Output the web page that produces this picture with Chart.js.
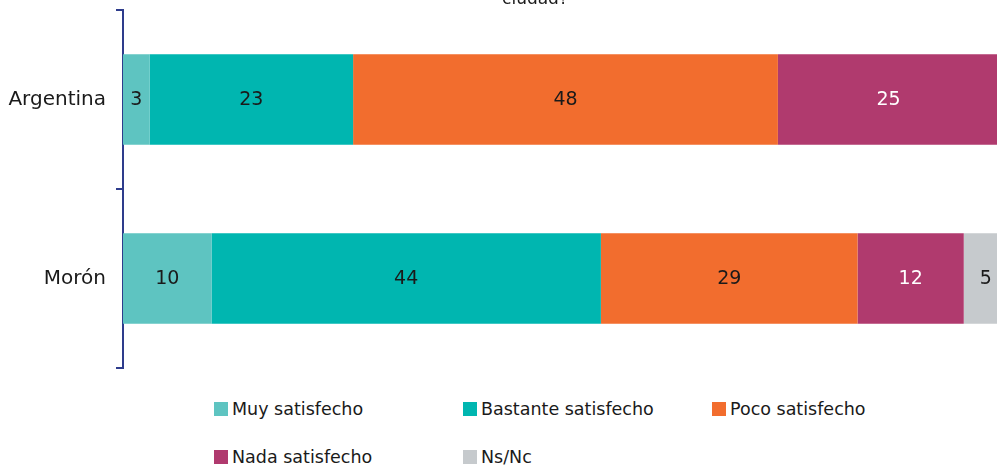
<!DOCTYPE html>
<html>
<head>
<meta charset="utf-8">
<script src="https://cdn.jsdelivr.net/npm/chart.js@4.4.1/dist/chart.umd.min.js"></script>
<style>
  body { margin: 0; width: 997px; height: 469px; overflow: hidden; background: #fff; position: relative; font-family: 'DejaVu Sans', sans-serif; }
  #wrap { position: absolute; left: 0; top: 0; width: 1008px; height: 380px; }
  #legend { position: absolute; left: 214px; top: 395px; display: grid; grid-template-columns: repeat(3, 249px); row-gap: 21px; }
  .lg-item { display: flex; align-items: center; font-size: 17.5px; color: #1a1a1a; height: 27px; }
  .lg-box { width: 14px; height: 14px; margin-right: 4px; }
</style>
</head>
<body>
<div id="wrap"><canvas id="chart"></canvas></div>
<div id="legend"></div>
<script>
// Satisfacción — Argentina vs Morón (stacked %)
const categories = ['Argentina', 'Morón'];
const seriesNames = ['Muy satisfecho', 'Bastante satisfecho', 'Poco satisfecho', 'Nada satisfecho', 'Ns/Nc'];
const muySatisfecho      = [3, 10];
const bastanteSatisfecho = [23, 44];
const pocoSatisfecho     = [48, 29];
const nadaSatisfecho     = [25, 12];
const nsNc               = [0, 5];

const COLORS = ['#5ec4c1', '#00b6b0', '#f26d2e', '#b03a6e', '#c6cacd'];
const LABEL_COLORS = ['#1a1a1a', '#1a1a1a', '#1a1a1a', '#ffffff', '#1a1a1a'];
const AXIS = '#2e3c8c';
const FONT = "'DejaVu Sans', sans-serif";

const values = [muySatisfecho, bastanteSatisfecho, pocoSatisfecho, nadaSatisfecho, nsNc];

// numbers in the middle of each segment
const barLabels = {
  id: 'barLabels',
  afterDatasetsDraw(chart) {
    const ctx = chart.ctx;
    ctx.save();
    ctx.font = '19px ' + FONT;
    ctx.textAlign = 'center';
    ctx.textBaseline = 'middle';
    chart.data.datasets.forEach((ds, i) => {
      chart.getDatasetMeta(i).data.forEach((el, j) => {
        const v = ds.data[j];
        if (!v) return;
        const p = el.getProps(['x', 'y', 'base'], true);
        ctx.fillStyle = LABEL_COLORS[i];
        ctx.fillText(String(v), (p.x + p.base) / 2, p.y + 1);
      });
    });
    ctx.restore();
  }
};

// last line of the (cut off) question title
const cutTitle = {
  id: 'cutTitle',
  afterDraw(chart) {
    const ctx = chart.ctx;
    ctx.save();
    ctx.font = '17px ' + FONT;
    ctx.fillStyle = '#1a1a1a';
    ctx.textAlign = 'center';
    ctx.textBaseline = 'alphabetic';
    ctx.fillText('ciudad?', 535, 4);
    ctx.restore();
  }
};

const chart = new Chart(document.getElementById('chart'), {
  type: 'bar',
  data: {
    labels: categories,
    datasets: seriesNames.map((name, i) => ({
      label: name,
      data: values[i],
      backgroundColor: COLORS[i],
      borderWidth: 0,
      barPercentage: 0.505,
      categoryPercentage: 1,
    })),
  },
  options: {
    animation: false, responsive: true, maintainAspectRatio: false, indexAxis: 'y',
    layout: { padding: { top: 10, bottom: 12, left: 0, right: 0 } },
    plugins: { legend: { display: false }, tooltip: { enabled: false } },
    scales: {
      x: { stacked: true, min: 0, max: 100, display: false },
      y: {
        stacked: true,
        afterFit: s => { s.width = 123; s.paddingTop = 0; s.paddingBottom = 0; },
        border: { color: AXIS, width: 2 },
        grid: { drawOnChartArea: false, color: AXIS, lineWidth: 2, tickLength: 7, offset: true },
        ticks: { color: '#1a1a1a', padding: 10, font: { family: FONT, size: 20 } },
      },
    },
  },
  plugins: [barLabels, cutTitle],
});

// legend, 3 columns
const legend = document.getElementById('legend');
seriesNames.forEach((name, i) => {
  const item = document.createElement('div');
  item.className = 'lg-item';
  item.innerHTML = `<span class="lg-box" style="background:${COLORS[i]}"></span>${name}`;
  legend.appendChild(item);
});
</script>
</body>
</html>
